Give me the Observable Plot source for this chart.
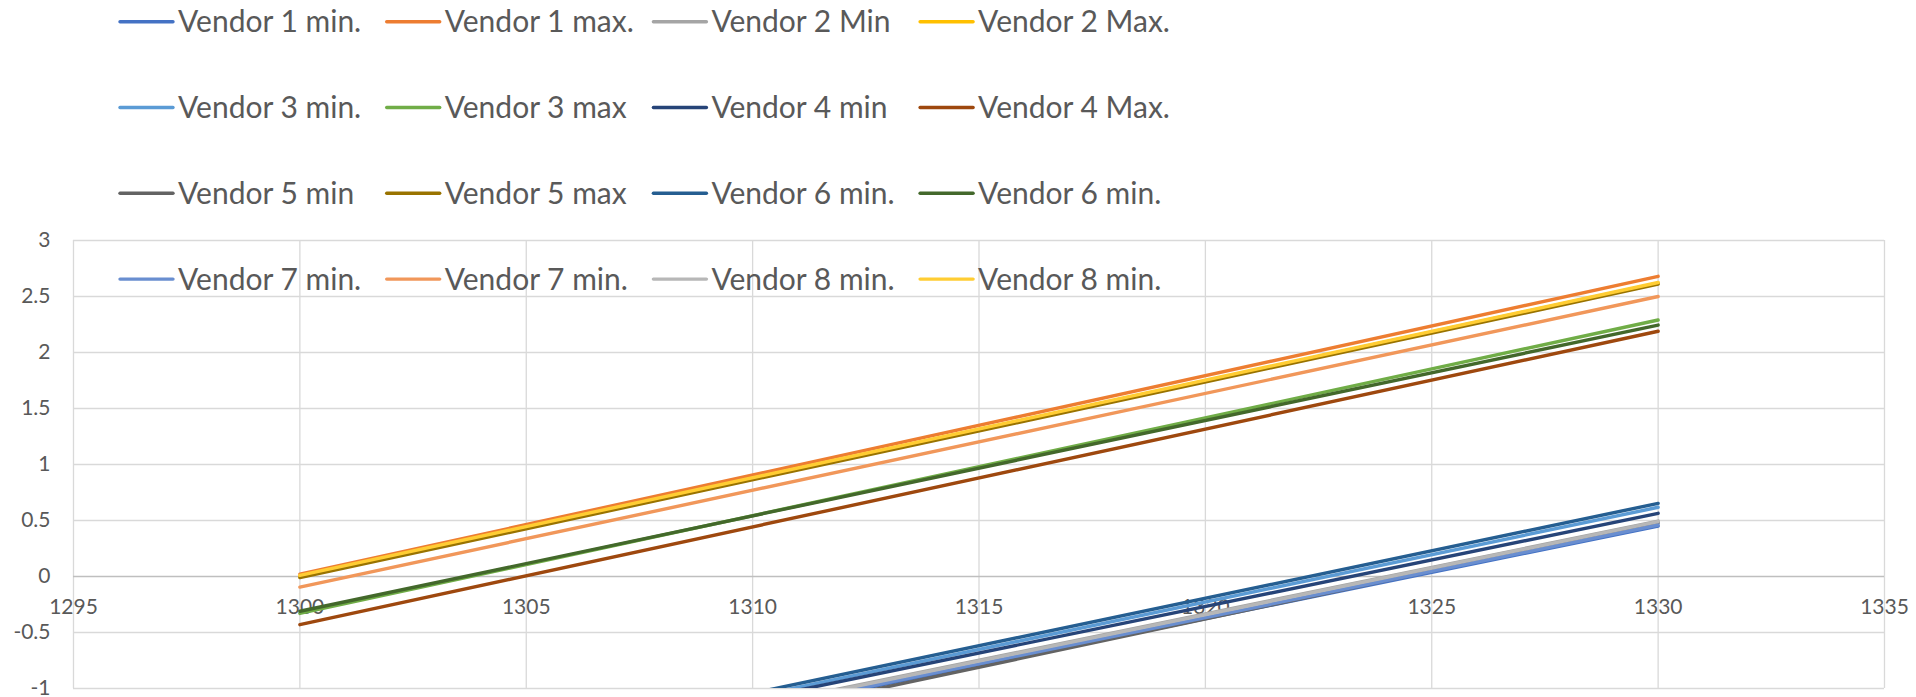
<!DOCTYPE html>
<html>
<head>
<meta charset="utf-8">
<script src="https://cdn.jsdelivr.net/npm/d3@7"></script>
<script src="https://cdn.jsdelivr.net/npm/@observablehq/plot@0.6"></script>
<style>
  html, body { margin: 0; padding: 0; background: #ffffff; }
  #wrap { position: relative; width: 1916px; height: 697px; font-family: Lato, "Open Sans", sans-serif; }
  #legend { position: absolute; left: 0; top: 0; pointer-events: none; }
</style>
</head>
<body>
<div id="wrap"></div>
<script>
// ---- data ----
const seriesNames = [
  "Vendor 1 min.", "Vendor 1 max.", "Vendor 2 Min", "Vendor 2 Max.",
  "Vendor 3 min.", "Vendor 3 max", "Vendor 4 min", "Vendor 4 Max.",
  "Vendor 5 min", "Vendor 5 max", "Vendor 6 min.", "Vendor 6 min.",
  "Vendor 7 min.", "Vendor 7 min.", "Vendor 8 min.", "Vendor 8 min."
];
const seriesColors = [
  "#4472C4", "#ED7D31", "#A5A5A5", "#FFC000",
  "#5B9BD5", "#70AD47", "#264478", "#9E480E",
  "#636363", "#997300", "#255E91", "#43682B",
  "#698ED0", "#F1975A", "#B7B7B7", "#FFCD33"
];
const xPoints = [1300, 1330];
const valuesAt1300 = [
  -2.03, 0.02, -1.99, 0.00,
  -1.92, -0.33, -1.93, -0.43,
  -2.10, -0.01, -1.89, -0.31,
  -2.02, -0.095, -2.00, 0.01
];
const valuesAt1330 = [
  0.45, 2.68, 0.495, 2.62,
  0.618, 2.29, 0.564, 2.19,
  0.48, 2.61, 0.653, 2.245,
  0.46, 2.50, 0.49, 2.625
];
const xTicks = [1295, 1300, 1305, 1310, 1315, 1320, 1325, 1330, 1335];
const yTicks = [-1, -0.5, 0, 0.5, 1, 1.5, 2, 2.5, 3];

// ---- table for Plot ----
const rows = [];
seriesNames.forEach((name, i) => {
  const vals = [valuesAt1300[i], valuesAt1330[i]];
  xPoints.forEach((x, j) => rows.push({ id: i, name, color: seriesColors[i], x, y: vals[j] }));
});

const textColor = "#595959";
const chart = Plot.plot({
  width: 1916,
  height: 697,
  marginLeft: 73,
  marginRight: 32,
  marginTop: 240,
  marginBottom: 9,
  style: { fontFamily: "Lato, 'Open Sans', sans-serif", background: "#ffffff", color: textColor, overflow: "visible" },
  x: { domain: [1295, 1335] },
  y: { domain: [-1, 3] },
  color: { type: "identity" },
  marks: [
    Plot.ruleX(xTicks, { stroke: "#D9D9D9", strokeWidth: 1.3 }),
    Plot.ruleY(yTicks.filter(d => d !== 0), { stroke: "#D9D9D9", strokeWidth: 1.3 }),
    Plot.ruleY([0], { stroke: "#BFBFBF", strokeWidth: 1.7 }),
    Plot.axisY(yTicks, { tickSize: 0, tickPadding: 23, fontSize: 21, fill: textColor, label: null, tickFormat: d => String(d) }),
    Plot.axisX([], { tickSize: 0, label: null }),
    Plot.text(xTicks, { x: d => d, y: 0, dy: 31, text: d => String(d), fontSize: 21, fill: textColor }),
    Plot.line(rows, { x: "x", y: "y", z: "id", stroke: "color", strokeWidth: 3.4, strokeLinecap: "round", clip: true })
  ]
});
const wrap = document.getElementById("wrap");
wrap.appendChild(chart);

// ---- legend overlay ----
const legend = d3.select(wrap).append("svg")
  .attr("id", "legend")
  .attr("width", 1916)
  .attr("height", 310);
const colStep = 266.7, rowStep = 85.8;
seriesNames.forEach((name, i) => {
  const col = i % 4, row = Math.floor(i / 4);
  const x0 = 120 + col * colStep;
  const yc = 21.7 + row * rowStep;
  const g = legend.append("g");
  g.append("line")
    .attr("x1", x0).attr("x2", x0 + 53)
    .attr("y1", yc).attr("y2", yc)
    .attr("stroke", seriesColors[i])
    .attr("stroke-width", 3.4)
    .attr("stroke-linecap", "round");
  g.append("text")
    .attr("x", x0 + 58)
    .attr("y", yc + 10.5)
    .attr("fill", textColor)
    .attr("font-size", 30)
    .attr("font-family", "Lato, 'Open Sans', sans-serif")
    .text(name);
});
</script>
</body>
</html>
